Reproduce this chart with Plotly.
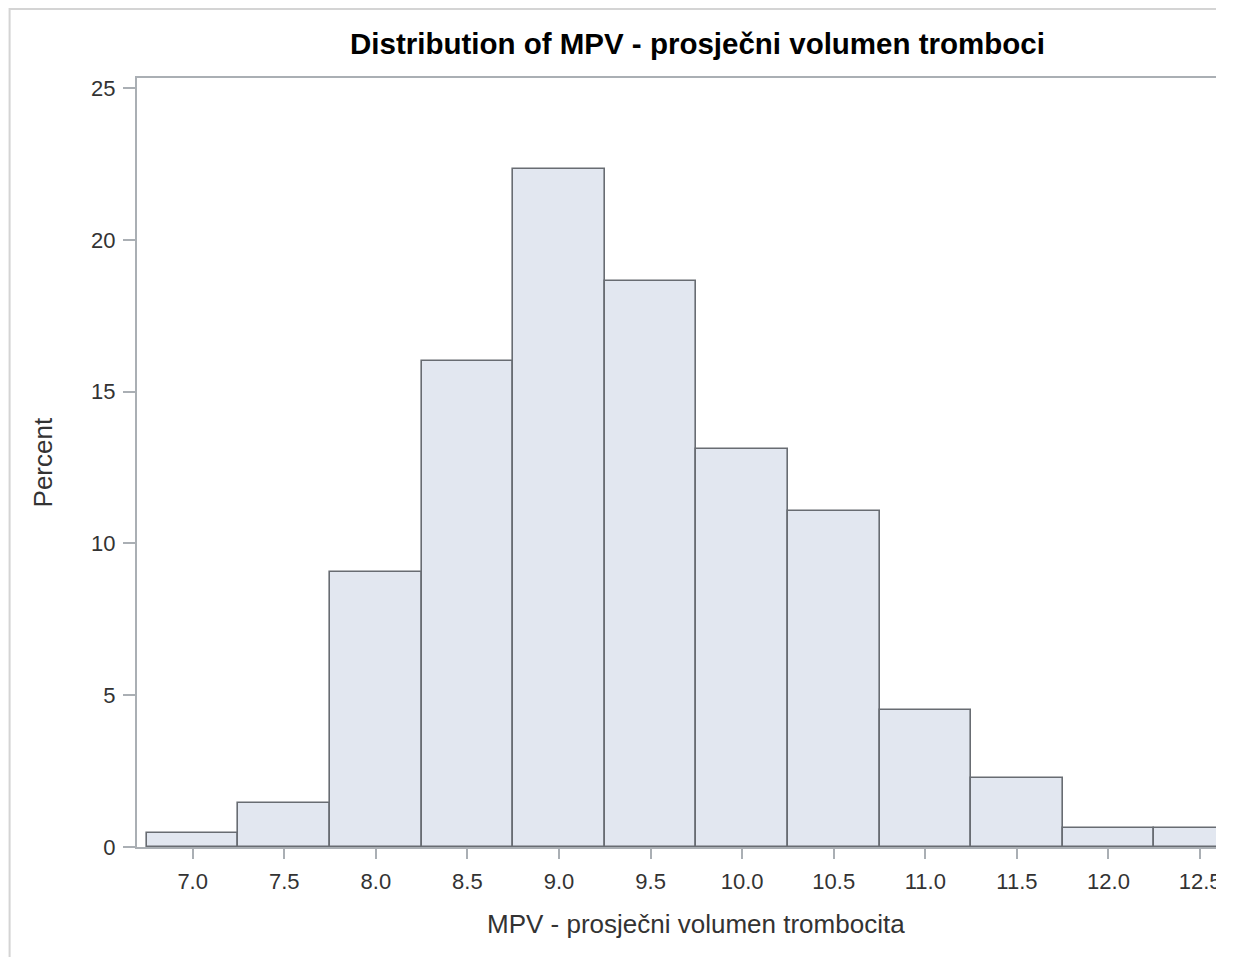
import plotly.graph_objects as go

# Data
bin_centers = [7.0, 7.5, 8.0, 8.5, 9.0, 9.5, 10.0, 10.5, 11.0, 11.5, 12.0, 12.5]
percents = [0.45, 1.45, 9.05, 16.0, 22.33, 18.64, 13.12, 11.08, 4.51, 2.27, 0.64, 0.64]
bin_width = 0.5
x_tick_vals = [7.0, 7.5, 8.0, 8.5, 9.0, 9.5, 10.0, 10.5, 11.0, 11.5, 12.0, 12.5]
y_tick_vals = [0, 5, 10, 15, 20, 25]

title_text = "Distribution of MPV - prosječni volumen tromboci"
x_title = "MPV - prosječni volumen trombocita"
y_title = "Percent"

OFF = 8  # default page body margin
W, H = 1217, 949
L, R, T, B = 129, 4, 70, 110
pw = W - L - R
ph = H - T - B

def px_x(p):
    return (p - OFF - L) / pw

def px_y(p):
    return (H - B - (p - OFF)) / ph

font_family = "Liberation Sans, Arial, sans-serif"

fig = go.Figure()
fig.add_trace(go.Bar(
    x=bin_centers,
    y=percents,
    width=bin_width,
    marker=dict(color="rgb(226,231,240)",
                line=dict(color="rgb(104,108,114)", width=1.6)),
    hoverinfo="x+y",
))

axis_line = "rgb(170,175,180)"

fig.update_layout(
    width=W, height=H,
    margin=dict(l=L, r=R, t=T, b=B, pad=0),
    paper_bgcolor="white",
    plot_bgcolor="white",
    showlegend=False,
    bargap=0,
    font=dict(family=font_family, color="#333333"),
    xaxis=dict(
        range=[6.696, 12.587],
        tickvals=x_tick_vals,
        tickformat=".1f",
        ticks="outside", ticklen=10, tickwidth=1.5, tickcolor=axis_line,
        showline=True, linecolor=axis_line, linewidth=2, mirror=True,
        showgrid=False, zeroline=False,
        tickfont=dict(size=22, color="#333333"),
        ticklabelstandoff=4,
        ticklabeloverflow="allow",
    ),
    yaxis=dict(
        range=[0, 25.33],
        tickvals=y_tick_vals,
        ticks="outside", ticklen=12, tickwidth=1.5, tickcolor=axis_line,
        showline=True, linecolor=axis_line, linewidth=2, mirror=False,
        showgrid=False, zeroline=False,
        tickfont=dict(size=22, color="#333333"),
        ticklabelstandoff=3,
    ),
    annotations=[
        dict(text="<b>" + title_text + "</b>", xref="paper", yref="paper",
             x=px_x(700.5), y=px_y(43), xanchor="center", yanchor="middle",
             showarrow=False, font=dict(size=29.5, color="black", family=font_family)),
        dict(text=x_title, xref="paper", yref="paper",
             x=px_x(699), y=px_y(924), xanchor="center", yanchor="middle",
             showarrow=False, font=dict(size=26, color="#333333", family=font_family)),
        dict(text=y_title, xref="paper", yref="paper",
             x=px_x(43), y=px_y(462), xanchor="center", yanchor="middle",
             textangle=-90,
             showarrow=False, font=dict(size=26, color="#333333", family=font_family)),
    ],
    shapes=[
        dict(type="rect", xref="paper", yref="paper", layer="above",
             x0=px_x(9), x1=px_x(1260), y0=px_y(9), y1=px_y(990),
             line=dict(color="rgb(212,212,212)", width=2), fillcolor="rgba(0,0,0,0)"),
        dict(type="rect", xref="paper", yref="paper", layer="above",
             x0=px_x(1221), x1=px_x(1260), y0=px_y(-20), y1=px_y(990),
             line=dict(width=0), fillcolor="white"),
    ],
)

fig.write_html("out.html", config={"displayModeBar": False})
